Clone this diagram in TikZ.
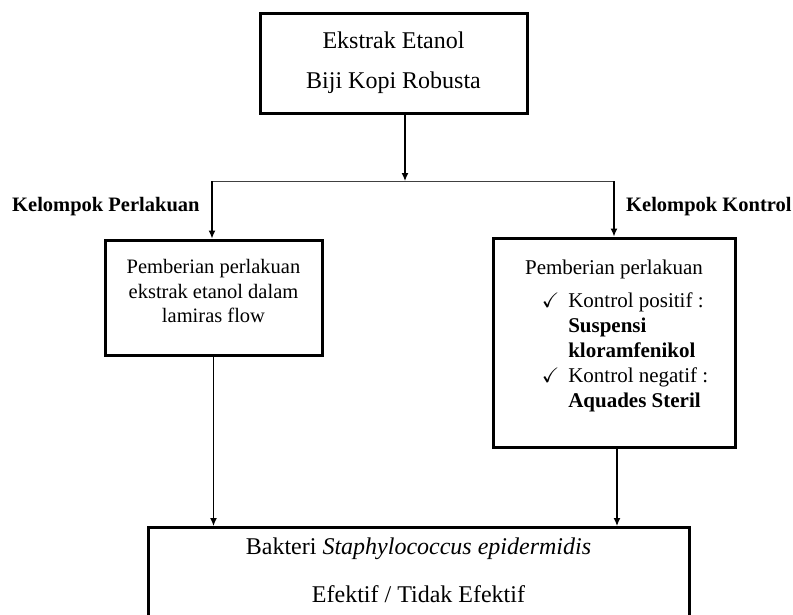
\documentclass[tikz,border=0pt]{standalone}
\usepackage{fontspec}
\usepackage{amssymb}
\setmainfont{Liberation Serif}
\usetikzlibrary{arrows.meta,positioning,calc}

\begin{document}
\begin{tikzpicture}[x=1pt,y=-1pt,
		box/.style={draw, line width=3pt, fill=white, align=center, inner sep=0pt},
		group/.style={font=\fontsize{20.5}{24}\selectfont\bfseries, inner sep=0pt},
		arrow/.style={line width=1.3pt, -{Latex[length=8pt,width=7pt]}}]
				\useasboundingbox (0,0) rectangle (793,614);
				\clip (0,0) rectangle (793,614);
				% boxes
				\node[box, minimum width=267, minimum height=100, font=\fontsize{24}{24}\selectfont] (ekstrak) at (393.5,63) {Ekstrak Etanol\\[16pt]Biji Kopi Robusta};
				\node[box, minimum width=217, minimum height=115, font=\fontsize{20.5}{24.5}\selectfont] (perlakuan) at (213.5,297.5) {Pemberian perlakuan\\ekstrak etanol dalam\\lamiras flow\\[-12pt]\mbox{}};
				\node[box, minimum width=242, minimum height=209, font=\fontsize{21}{25}\selectfont] (kontrol) at (614,342.5) {Pemberian perlakuan\\[10pt]
					\hspace*{22pt}\begin{tabular}{@{}l@{\hspace{9pt}}l@{}}
						$\checkmark$ & Kontrol positif :\\
						& \textbf{Suspensi}\\
						& \textbf{kloramfenikol}\\
						$\checkmark$ & Kontrol negatif :\\
						& \textbf{Aquades Steril}
					\end{tabular}\\[10pt]\mbox{}};
				\node[box, anchor=north, minimum width=541, inner ysep=10pt, font=\fontsize{24}{24}\selectfont] (bakteri) at (418.5,526) {Bakteri \textit{Staphylococcus epidermidis}\\[24pt]Efektif / Tidak Efektif\\[40pt]\mbox{}};
				% group labels
				\node[group, anchor=west] (labelP) at (12,207) {Kelompok Perlakuan};
				\node[group, anchor=west] (labelK) at (626,207) {Kelompok Kontrol};
				% branches
				\coordinate (split) at (405,181);
				\coordinate (splitL) at (212,181);
				\coordinate (splitR) at (614,181);
				\draw[line width=0.9pt, black!75] (splitL) -- (splitR);
				\draw[arrow] (ekstrak.south -| split) -- (split);
				\draw[arrow] (splitL) -- (perlakuan.north -| splitL);
				\draw[arrow] (splitR) -- (kontrol.north);
				\draw[arrow] (perlakuan.south) -- (perlakuan.south |- bakteri.north);
				\draw[arrow] ($(kontrol.south)+(3,0)$) -- ($(kontrol.south |- bakteri.north)+(3,0)$);
			\end{tikzpicture}
\end{document}
